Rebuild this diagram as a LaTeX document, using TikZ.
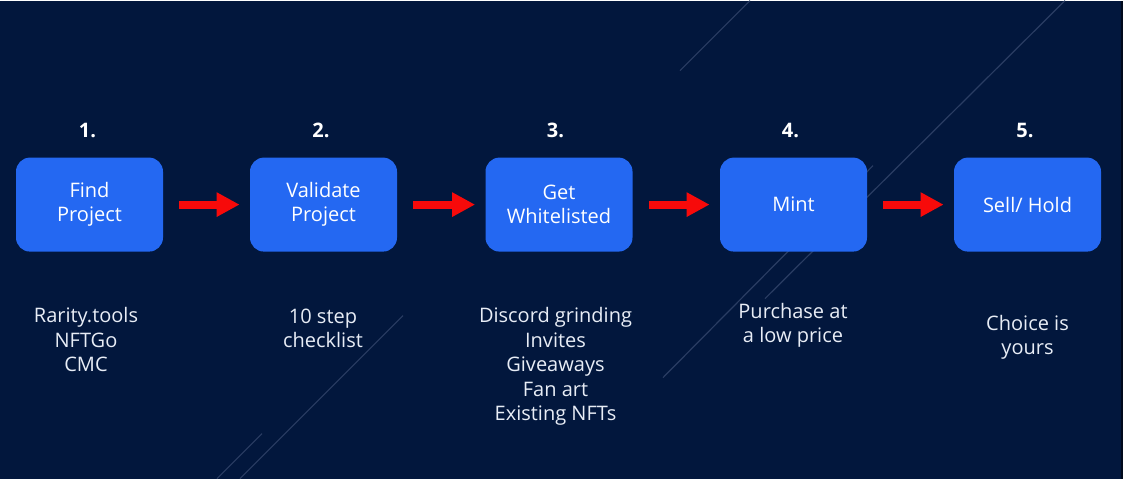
\documentclass[tikz,border=0pt]{standalone}
\usepackage{fontspec}
\setmainfont{Open Sans}
\usepackage{xcolor}
\usetikzlibrary{arrows.meta}
\definecolor{navy}{HTML}{02173D}
\definecolor{edgedark}{HTML}{010A1C}
\definecolor{boxblue}{HTML}{2468F2}
\definecolor{streakcol}{HTML}{2A3D63}
\definecolor{arrowred}{HTML}{F70A0A}
\definecolor{notewhite}{HTML}{E8EDF6}

\begin{document}
\begin{tikzpicture}[x=0.5pt,y=-0.5pt,
stage/.style={fill=boxblue,rounded corners=7pt,minimum width=73.5pt,minimum height=47pt,inner sep=0pt,
  text=white,align=center,font=\fontsize{10}{12}\selectfont},
num/.style={text=white,anchor=base,font=\bfseries\fontsize{10}{12}\selectfont},
note/.style={text=notewhite,align=center,anchor=base,font=\fontsize{10}{12.25}\selectfont},
go/.style={arrowred,line width=4pt,-{Triangle[length=11.5pt,width=11.5pt]},shorten <=8pt,shorten >=5pt},
streak/.style={streakcol,line width=0.6pt}]
% background
\fill[navy](0,0)rectangle(1123,478);
\fill[edgedark](1121,0)rectangle(1123,478);
\draw[streak](680,70)--(750,0)
(1065,0)--(765,298)
(873,165)--(663,377)
(403,315)--(240,478)
(262,433)--(217,478);
% steps
\node[stage](find)at(89.5,204){Find\\Project};
\node[stage](validate)at(323.5,204){Validate\\Project};
\node[stage](whitelist)at(559,204){Get\\Whitelisted};
\node[stage](mint)at(793.5,204){Mint};
\node[stage](sell)at(1027.5,204){Sell/ Hold};
\foreach \x/\n in {87.5/1,321/2,555.5/3,790.5/4,1025/5}
  \node[num](n\n)at(\x,137){\n.};
\draw[go](find)--(validate);
\draw[go](validate)--(whitelist);
\draw[go](whitelist)--(mint);
\draw[go](mint)--(sell);
% notes (base = last line)
\node[note](tools)at(86,371){Rarity.tools\\NFTGo\\CMC};
\node[note](check)at(323,347){10 step\\checklist};
\node[note](ways)at(555.5,420){Discord grinding\\Invites\\Giveaways\\Fan art\\Existing NFTs};
\node[note](buy)at(793,342){Purchase at\\a low price};
\node[note](choice)at(1027.5,354){Choice is\\yours};
\end{tikzpicture}
\end{document}
